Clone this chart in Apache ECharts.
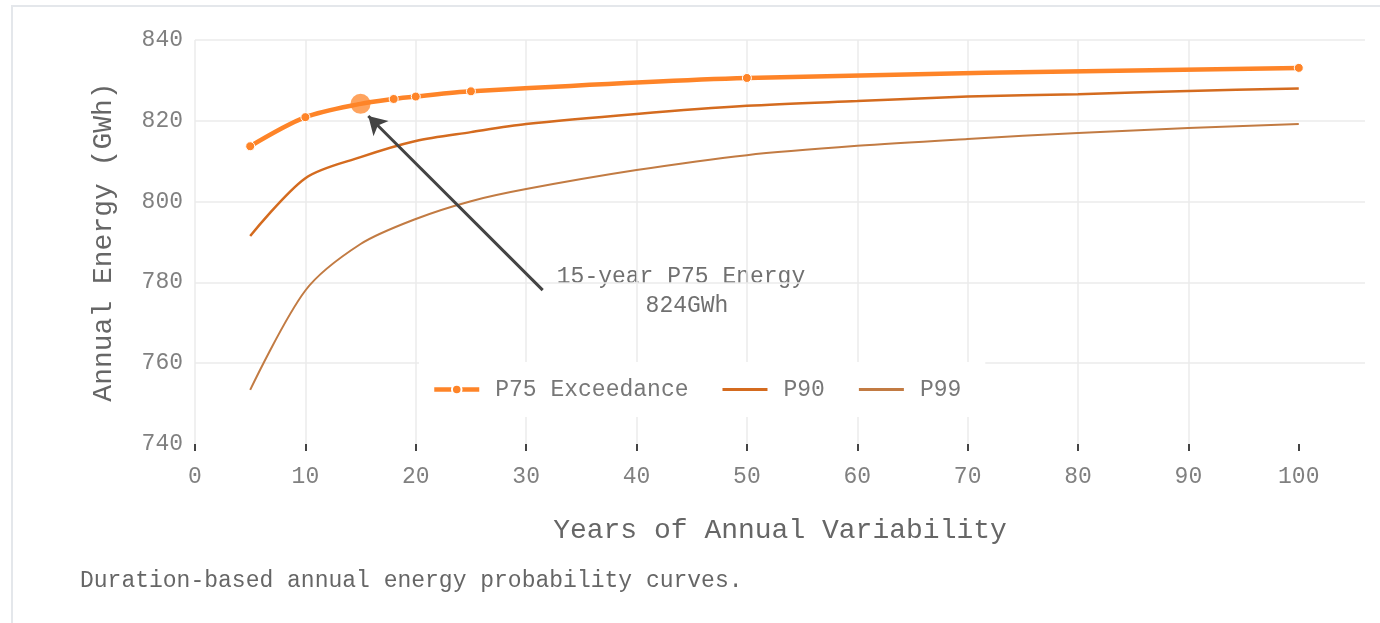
<!DOCTYPE html>
<html>
<head>
<meta charset="utf-8">
<script src="https://cdn.jsdelivr.net/npm/echarts@6/dist/echarts.min.js"></script>
<style>
  html, body { margin: 0; padding: 0; background: #fff; }
  #chart { width: 1380px; height: 623px; }
</style>
</head>
<body>
<div id="chart"></div>
<script>
// P75 curve (marked points)
const yearsP75 = [5, 10, 15, 18, 20, 25, 50, 100]
const p75 = [813.7, 820.9, 824.2, 825.4, 826.0, 827.3, 830.6, 833.1]
// P90 / P99 curves
const years = [5, 10, 15, 20, 25, 30, 40, 50, 60, 70, 80, 90, 100]
const p90 = [791.5, 805.8, 811.0, 815.0, 817.2, 819.2, 821.7, 823.7, 824.9, 826.0, 826.6, 827.4, 828.0]
const p99 = [753.4, 778.0, 789.5, 795.7, 800.1, 803.1, 807.8, 811.5, 813.8, 815.5, 817.0, 818.2, 819.2]
const xTicks = [0, 10, 20, 30, 40, 50, 60, 70, 80, 90, 100]
const highlightYear = 15

const FONT = '"Liberation Mono", "DejaVu Sans Mono", monospace'
const C75 = '#fe8428', C90 = '#d46b1f', C99 = '#c27b43'
const BAR_ICON = 'path://M0,0h45v3h-45z'

let chart = echarts.init(document.getElementById('chart'))

const p75Data = yearsP75.map((x, i) => {
  if (x === highlightYear) {
    return { value: [x, p75[i]], symbolSize: 20, itemStyle: { opacity: 0.75, borderWidth: 0 } }
  }
  return [x, p75[i]]
})

const option = {
  animation: false,
  textStyle: { fontFamily: FONT },
  grid: { left: 195, right: 15, top: 40, bottom: 179 },
  xAxis: {
    type: 'value', min: 0, max: 106, interval: 10,
    name: 'Years of Annual Variability', nameLocation: 'middle', nameGap: 73,
    nameTextStyle: { fontFamily: FONT, fontSize: 28, color: '#666' },
    axisLine: { show: false },
    axisTick: { show: true, length: 7, lineStyle: { color: '#444', width: 2 }, customValues: xTicks },
    axisLabel: {
      margin: 21, fontFamily: FONT, fontSize: 23, color: '#808080', customValues: xTicks,
      formatter: v => (v % 10 === 0 ? String(v) : '')
    },
    splitLine: { show: true, showMaxLine: false, lineStyle: { color: '#ebebeb', width: 1.5 } }
  },
  yAxis: {
    type: 'value', min: 740, max: 840, interval: 20,
    name: 'Annual Energy (GWh)', nameLocation: 'middle', nameGap: 77,
    nameTextStyle: { fontFamily: FONT, fontSize: 28, color: '#666' },
    axisLine: { show: false },
    axisTick: { show: false },
    axisLabel: { margin: 12, fontFamily: FONT, fontSize: 23, color: '#808080' },
    splitLine: { show: true, showMinLine: false, lineStyle: { color: '#ebebeb', width: 1.5 } }
  },
  legend: {
    left: 419, top: 362,
    backgroundColor: '#fff',
    padding: [16, 24, 16, 13],
    itemWidth: 45, itemHeight: 12, itemGap: 34,
    symbolKeepAspect: true,
    textStyle: { fontFamily: FONT, fontSize: 23, color: '#777', padding: [0, 0, 0, 11] },
    data: [
      { name: 'P75 Exceedance', lineStyle: { width: 4.5 } },
      { name: 'P90', icon: BAR_ICON, itemStyle: { color: C90 } },
      { name: 'P99', icon: BAR_ICON, itemStyle: { color: C99 } }
    ]
  },
  series: [
    {
      name: 'P99', type: 'line', data: years.map((x, i) => [x, p99[i]]),
      smooth: 0.3, symbol: 'none', lineStyle: { color: C99, width: 2 }, itemStyle: { color: C99 }, z: 2
    },
    {
      name: 'P90', type: 'line', data: years.map((x, i) => [x, p90[i]]),
      smooth: 0.3, symbol: 'none', lineStyle: { color: C90, width: 2.5 }, itemStyle: { color: C90 }, z: 3
    },
    {
      name: 'P75 Exceedance', type: 'line', data: p75Data,
      smooth: 0.3, symbol: 'circle', symbolSize: 9, showSymbol: true,
      lineStyle: { color: C75, width: 4.5 },
      itemStyle: { color: C75, borderColor: '#fff', borderWidth: 1 },
      z: 4,
      markLine: {
        silent: true, symbol: ['none', 'arrow'], symbolSize: [16, 18],
        label: { show: false },
        lineStyle: { color: '#444', width: 3, type: 'solid' },
        data: [[{ coord: [31.5, 778.1] }, { coord: [15.7, 821.2] }]]
      }
    }
  ],
  graphic: [
    { type: 'rect', shape: { x: 12, y: 6, width: 1400, height: 700 }, style: { fill: 'none', stroke: '#e4e7eb', lineWidth: 2 }, silent: true, z: -1 },
    { type: 'text', x: 681, y: 277, style: { text: '15-year P75 Energy', font: '23px ' + FONT, fill: '#707070', textAlign: 'center', textVerticalAlign: 'middle' } },
    { type: 'text', x: 687, y: 306, style: { text: '824GWh', font: '23px ' + FONT, fill: '#707070', textAlign: 'center', textVerticalAlign: 'middle' } },
    { type: 'text', x: 80, y: 581, style: { text: 'Duration-based annual energy probability curves.', font: '23px ' + FONT, fill: '#666', textAlign: 'left', textVerticalAlign: 'middle' } }
  ]
}

chart.setOption(option)
</script>
</body>
</html>
